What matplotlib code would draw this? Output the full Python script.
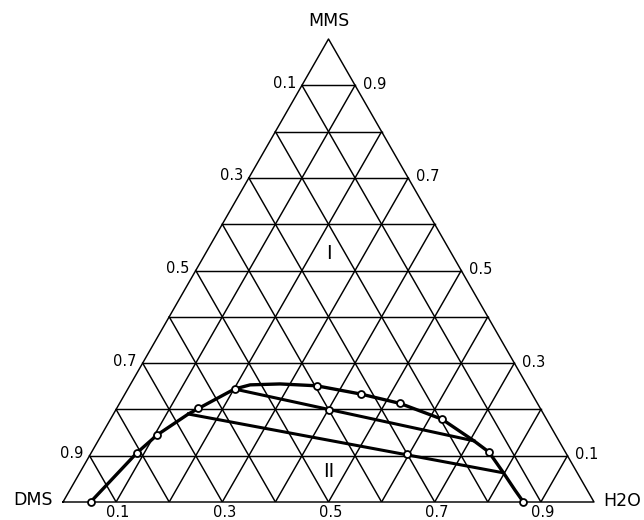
import numpy as np
import matplotlib
matplotlib.use("Agg")
import matplotlib.pyplot as plt

# compositions read as (H2O fraction, MMS fraction)
curve_h = [0.052, 0.086, 0.105, 0.141, 0.154, 0.201, 0.226, 0.281, 0.352,
           0.445, 0.528, 0.624, 0.708, 0.748, 0.798, 0.838, 0.867]
curve_m = [0.000, 0.106, 0.145, 0.190, 0.202, 0.244, 0.253, 0.255, 0.251,
           0.233, 0.213, 0.179, 0.132, 0.108, 0.063, 0.026, 0.000]

pts_h = [0.052, 0.086, 0.105, 0.154, 0.201, 0.352, 0.445, 0.528, 0.624,
         0.748, 0.867, 0.402, 0.596]
pts_m = [0.000, 0.106, 0.145, 0.202, 0.244, 0.251, 0.233, 0.213, 0.179,
         0.108, 0.000, 0.199, 0.103]

# tie lines, end to end
tie1_h = [0.201, 0.708]
tie1_m = [0.244, 0.132]
tie2_h = [0.141, 0.798]
tie2_m = [0.190, 0.063]

ticks = [0.1, 0.3, 0.5, 0.7, 0.9]

S3 = np.sqrt(3) / 2


def xy(h, m):
    h = np.asarray(h, float)
    m = np.asarray(m, float)
    return h + m / 2, m * S3


fig = plt.figure(figsize=(6.44, 5.2), dpi=100)
ax = fig.add_axes([63 / 644, 18 / 520, 531 / 644, 463 / 520])
ax.set_xlim(0, 1)
ax.set_ylim(0, S3)
ax.axis("off")

glw = 1.05
# outline
ax.plot([0, 1, 0.5, 0], [0, 0, S3, 0], color="k", lw=glw, clip_on=False)
# grid lines, 10 divisions on each side
for k in range(1, 10):
    f = k / 10
    x0, y0 = xy(0, f)
    x1, y1 = xy(1 - f, f)
    ax.plot([x0, x1], [y0, y1], color="k", lw=glw)
    x0, y0 = xy(f, 0)
    x1, y1 = xy(f, 1 - f)
    ax.plot([x0, x1], [y0, y1], color="k", lw=glw)
    x0, y0 = xy(f, 0)
    x1, y1 = xy(0, f)
    ax.plot([x0, x1], [y0, y1], color="k", lw=glw)

# binodal curve and tie lines
cx, cy = xy(curve_h, curve_m)
ax.plot(cx, cy, color="k", lw=2.4, solid_joinstyle="round", clip_on=False, zorder=3)
for th, tm in [(tie1_h, tie1_m), (tie2_h, tie2_m)]:
    tx, ty = xy(th, tm)
    ax.plot(tx, ty, color="k", lw=2.2, zorder=3)
px, py = xy(pts_h, pts_m)
ax.plot(px, py, "o", ms=5, mfc="white", mec="k", mew=1.3, clip_on=False, zorder=4)

pt = 72 / 100  # pixels -> points
fs = 10.5
for t in ticks:
    # left side
    x, y = xy(0, 1 - t)
    ax.annotate(f"{t:.1f}", (x, y), xytext=(-6 * pt, 2 * pt), textcoords="offset points",
                ha="right", va="center", fontsize=fs)
    # right side
    x, y = xy(1 - t, t)
    ax.annotate(f"{t:.1f}", (x, y), xytext=(8 * pt, 1 * pt), textcoords="offset points",
                ha="left", va="center", fontsize=fs)
    # bottom
    x, y = xy(t, 0)
    ax.annotate(f"{t:.1f}", (x, y), xytext=(2 * pt, -3 * pt), textcoords="offset points",
                ha="center", va="top", fontsize=fs, annotation_clip=False)

ax.annotate("MMS", (0.5, S3), xytext=(0, 18 * pt), textcoords="offset points",
            ha="center", va="center", fontsize=12.5)
ax.annotate("DMS", (0, 0), xytext=(-10 * pt, 2 * pt), textcoords="offset points",
            ha="right", va="center", fontsize=12.5)
ax.annotate("H2O", (1, 0), xytext=(9 * pt, 1 * pt), textcoords="offset points",
            ha="left", va="center", fontsize=12.5)

# region labels
ax.text(*xy(0.232, 0.536), "I", ha="center", va="center", fontsize=14)
ax.text(*xy(0.468, 0.065), "II", ha="center", va="center", fontsize=14)

fig.savefig("out.png", dpi=100)
